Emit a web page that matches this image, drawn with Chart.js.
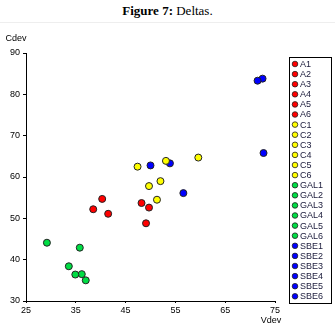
<!DOCTYPE html>
<html>
<head>
<meta charset="utf-8">
<script src="https://cdn.jsdelivr.net/npm/chart.js@4"></script>
<style>
  body { margin: 0; background: #fff; }
  #wrap { position: relative; width: 335px; height: 327px; }
  #title {
    position: absolute; left: 0; top: 3px; width: 335px; text-align: center;
    font-family: "Liberation Serif", "DejaVu Serif", serif; font-size: 13px; color: #000;
  }
  #rule { position: absolute; left: 0; top: 22px; width: 335px; height: 1px; background: #eeeeee; }
  canvas { position: absolute; left: 0; top: 0; }
</style>
</head>
<body>
<div id="wrap">
  <div id="title"><b>Figure 7:</b> Deltas.</div>
  <div id="rule"></div>
  <canvas id="chart" width="335" height="327"></canvas>
</div>
<script>
const groups = ["A", "C", "GAL", "SBE"];
const groupColors = ["#ff0000", "#ffff00", "#00dd44", "#0000ff"];

const aVdev = [40.3, 38.5, 41.5, 48.2, 49.7, 49.1];
const aCdev = [54.7, 52.2, 51.1, 53.7, 52.6, 48.8];
const cVdev = [47.4, 53.1, 59.6, 49.7, 52.0, 51.3];
const cCdev = [62.5, 63.9, 64.7, 57.8, 59.0, 54.5];
const galVdev = [29.2, 35.8, 33.6, 34.9, 36.2, 37.0];
const galCdev = [44.1, 42.9, 38.4, 36.4, 36.5, 35.0];
const sbeVdev = [71.5, 72.5, 72.7, 50.0, 53.9, 56.6];
const sbeCdev = [83.3, 83.8, 65.8, 62.8, 63.3, 56.1];

const xTicks = [25, 35, 45, 55, 65, 75];
const yTicks = [30, 40, 50, 60, 70, 80, 90];

const seriesX = [aVdev, cVdev, galVdev, sbeVdev];
const seriesY = [aCdev, cCdev, galCdev, sbeCdev];

const datasets = [];
groups.forEach((g, gi) => {
    seriesX[gi].forEach((x, i) => {
        datasets.push({
            label: g + (i + 1),
            data: [{ x: x, y: seriesY[gi][i] }],
            backgroundColor: groupColors[gi],
            borderColor: "#222222",
            borderWidth: 1,
            pointRadius: 3.5,
            pointHoverRadius: 3.5
        });
    });
});

const tickFont = { family: "Liberation Sans", size: 9 };

// boxed legend at the right, one row per point
const boxLegend = {
    id: "boxLegend",
    afterDraw(chart) {
        const ctx = chart.ctx;
        ctx.save();
        ctx.strokeStyle = "#000";
        ctx.lineWidth = 1;
        ctx.strokeRect(289.5, 57.5, 42, 246);
        ctx.font = "9px Liberation Sans";
        ctx.textBaseline = "middle";
        chart.data.datasets.forEach((ds, i) => {
            const y = 64 + i * 10.1;
            ctx.beginPath();
            ctx.arc(295, y, 2.8, 0, Math.PI * 2);
            ctx.fillStyle = ds.backgroundColor;
            ctx.fill();
            ctx.strokeStyle = "#222";
            ctx.lineWidth = 0.8;
            ctx.stroke();
            ctx.fillStyle = "#1a1a3a";
            ctx.fillText(ds.label, 300, y + 0.5);
        });
        ctx.restore();
    }
};

// axis names: Cdev above the y axis, Vdev under the right end of x axis
const axisNames = {
    id: "axisNames",
    afterDraw(chart) {
        const ctx = chart.ctx;
        const a = chart.chartArea;
        ctx.save();
        ctx.font = "9px Liberation Sans";
        ctx.fillStyle = "#000";
        ctx.textBaseline = "middle";
        ctx.textAlign = "center";
        ctx.fillText("Cdev", 16, 39);
        ctx.fillText("Vdev", a.right - 4, 321);
        ctx.restore();
    }
};

new Chart(document.getElementById("chart").getContext("2d"), {
    type: "scatter",
    data: { datasets: datasets },
    options: {
        responsive: false,
        animation: false,
        layout: { padding: { left: 0, top: 53, right: 60, bottom: 0 } },
        plugins: {
            legend: { display: false },
            tooltip: { enabled: false }
        },
        scales: {
            x: {
                type: "linear",
                min: 25,
                max: 75,
                afterBuildTicks: (scale) => { scale.ticks = xTicks.map(v => ({ value: v })); },
                afterFit: (scale) => { scale.height = 26; },
                ticks: { color: "#000", font: tickFont, padding: 2, maxRotation: 0 },
                grid: { display: true, drawOnChartArea: false, drawTicks: true, tickLength: 2, color: "#000" },
                border: { display: true, color: "#000", width: 1 }
            },
            y: {
                type: "linear",
                min: 30,
                max: 90,
                afterBuildTicks: (scale) => { scale.ticks = yTicks.map(v => ({ value: v })); },
                afterFit: (scale) => { scale.width = 26; },
                ticks: { color: "#000", font: tickFont, padding: 3 },
                grid: { display: true, drawOnChartArea: false, drawTicks: true, tickLength: 3, color: "#000" },
                border: { display: true, color: "#000", width: 1 }
            }
        }
    },
    plugins: [boxLegend, axisNames]
});
</script>
</body>
</html>
